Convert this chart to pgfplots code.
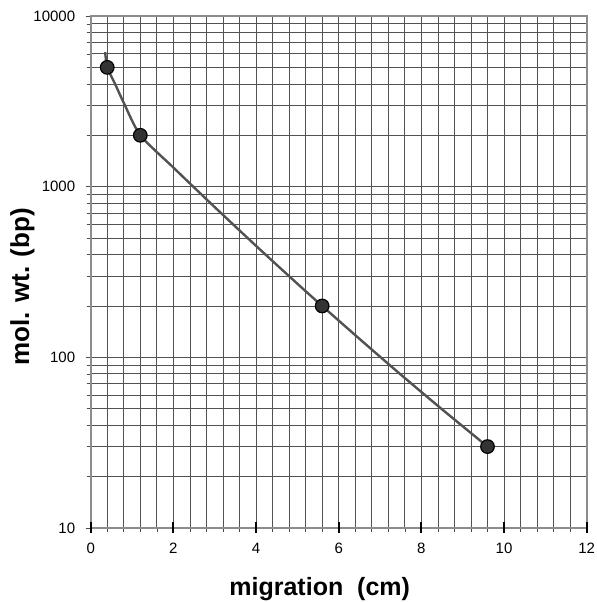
\documentclass[border=0pt]{standalone}
\usepackage{fontspec}
\setmainfont{Liberation Sans}
\usepackage{pgfplots}
\pgfplotsset{compat=1.18}
\begin{document}
\begin{tikzpicture}
\useasboundingbox (-90.7pt,-74pt) rectangle (506pt,528pt);
\begin{axis}[
  at={(0pt,0pt)}, anchor=south west,
  scale only axis,
  width=496pt, height=512pt,
  xmin=0, xmax=12,
  ymode=log, ymin=10, ymax=10000,
  log basis y=10,
  xtick={0,2,4,6,8,10,12},
  minor x tick num=4,
  ytick={10,100,1000,10000},
  yticklabels={10,100,1000,10000},
  minor ytick={20,30,40,50,60,70,80,90,200,300,400,500,600,700,800,900,2000,3000,4000,5000,6000,7000,8000,9000},
  xtick pos=bottom, ytick pos=left,
  /pgf/number format/assume math mode=true,
  ticklabel style={font=\fontsize{15}{17}\selectfont},
  xticklabel style={yshift=-7pt},
  yticklabel style={xshift=-7pt},
  grid=both,
  major grid style={line width=0.8pt, color=black!68},
  minor grid style={line width=0.8pt, color=black!68},
  axis line style={line width=1.8pt, color=black!45},
  tick align=outside,
  major tick length=5pt,
  minor tick length=4pt,
  tick style={color=black!70, line width=0.6pt},
  major x tick style={line width=2pt, color=black},
  xlabel={\bfseries migration\ \ (cm)},
  ylabel={\bfseries mol. wt. (bp)},
  xlabel style={font=\fontsize{25}{29}\selectfont, yshift=-16pt, xshift=-19pt},
  ylabel style={font=\fontsize{26}{30}\selectfont, yshift=-8pt, xshift=-15pt},
]
\addplot[smooth, tension=0.4, line width=2.4pt, color=black!68] coordinates {
  (0.35,6150) (0.4,5000) (0.6,3950) (0.8,3100) (1.2,2000) (2,1294) (3,759)
  (4,450) (5,270) (5.6,200) (6.5,128.5) (7.5,79.3) (8.5,49.6) (9.6,30)
};
\addplot[only marks, mark=*, mark size=6.8pt, mark options={fill=black!80, draw=black, line width=1.2pt}] coordinates {
  (0.4,5000) (1.2,2000) (5.6,200) (9.6,30)
};
\end{axis}
\foreach \xx in {0,2,4,6,8,10,12}{
  \draw[line width=2.2pt, black] (\xx*41.333pt,-4pt) -- ++(0,10pt);
}
\end{tikzpicture}
\end{document}
